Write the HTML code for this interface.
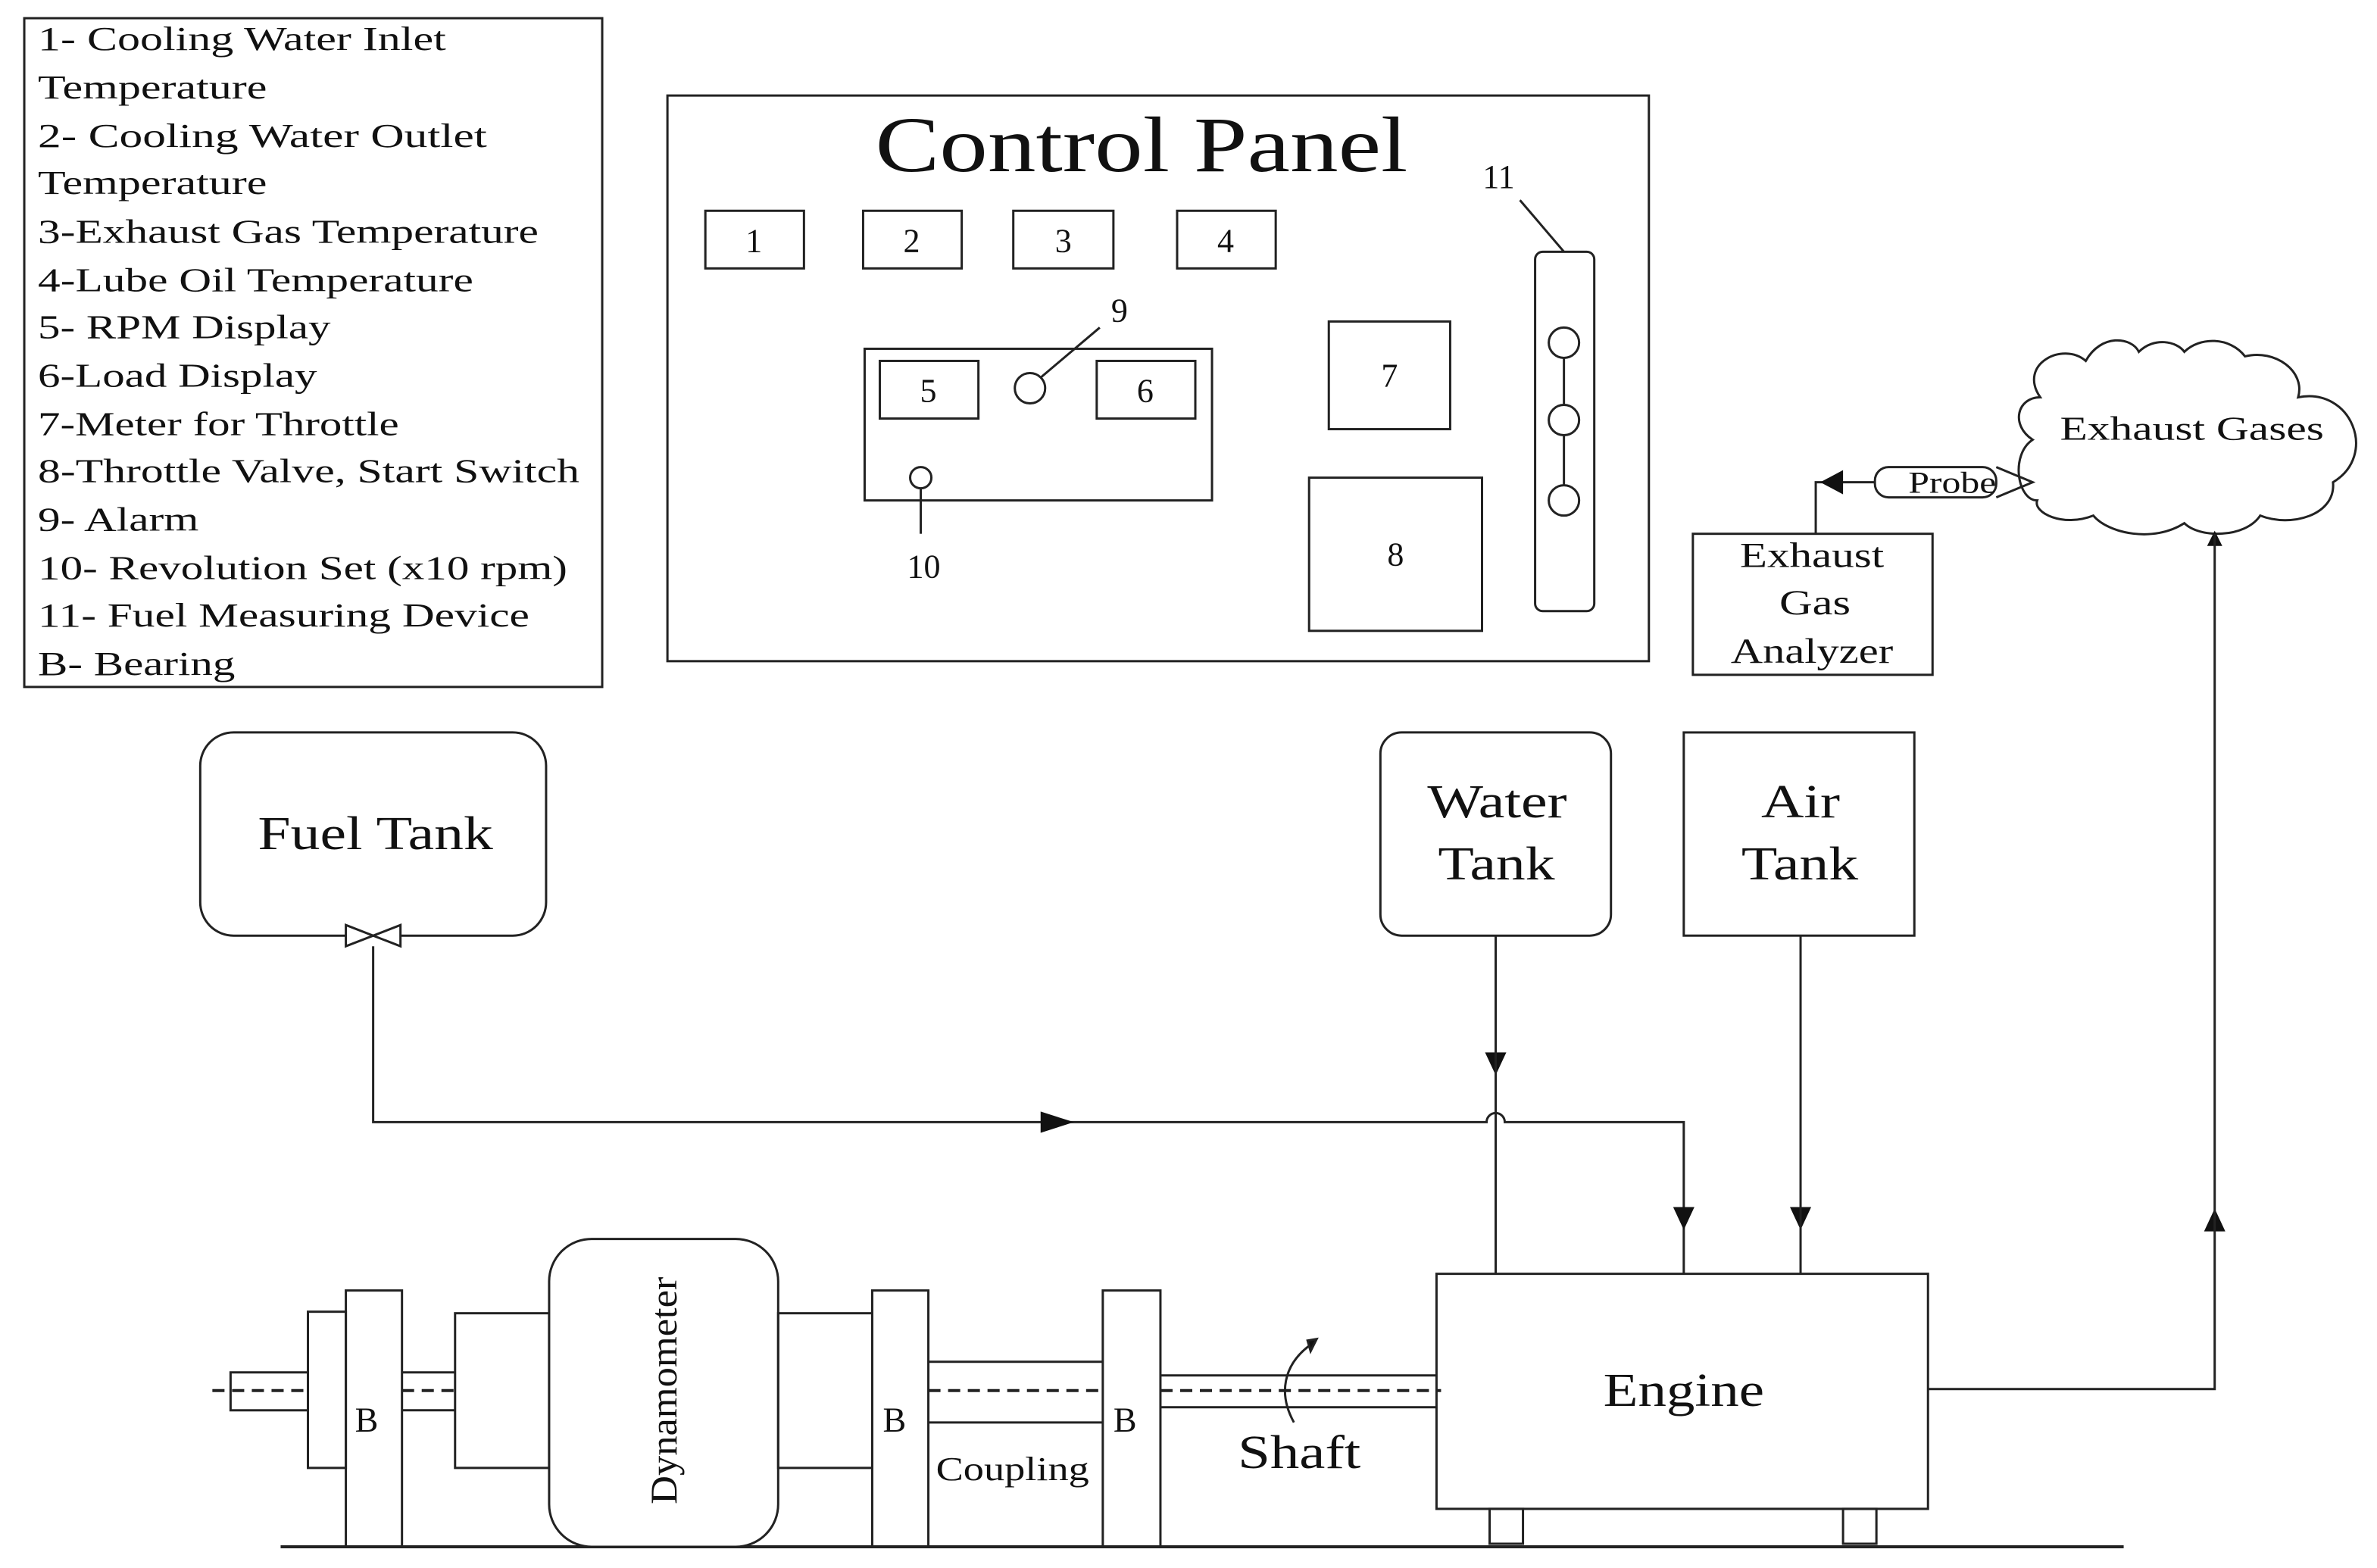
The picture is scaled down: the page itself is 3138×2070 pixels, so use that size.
<!DOCTYPE html>
<html><head><style>html,body{margin:0;padding:0;background:#fff}svg{display:block}</style></head><body>
<svg width="3138" height="2070" viewBox="0 0 1567 1034" preserveAspectRatio="none" xmlns="http://www.w3.org/2000/svg" font-family="Liberation Serif, serif" fill="none" stroke="#222" stroke-width="1.5">
<rect x="16" y="12" width="381" height="441"/>
<g fill="#111" stroke="none" font-size="22" lengthAdjust="spacingAndGlyphs">
<text x="25" y="33" textLength="269" lengthAdjust="spacingAndGlyphs">1- Cooling Water Inlet</text><text x="25" y="65" textLength="151" lengthAdjust="spacingAndGlyphs">Temperature</text>
<text x="25" y="97" textLength="296" lengthAdjust="spacingAndGlyphs">2- Cooling  Water Outlet</text><text x="25" y="128" textLength="151" lengthAdjust="spacingAndGlyphs">Temperature</text>
<text x="25" y="160" textLength="330" lengthAdjust="spacingAndGlyphs">3-Exhaust Gas Temperature</text><text x="25" y="192" textLength="287" lengthAdjust="spacingAndGlyphs">4-Lube Oil Temperature</text>
<text x="25" y="223" textLength="193" lengthAdjust="spacingAndGlyphs">5- RPM Display</text><text x="25" y="255" textLength="184" lengthAdjust="spacingAndGlyphs">6-Load Display</text>
<text x="25" y="287" textLength="238" lengthAdjust="spacingAndGlyphs">7-Meter for Throttle</text><text x="25" y="318" textLength="357" lengthAdjust="spacingAndGlyphs">8-Throttle Valve, Start Switch</text>
<text x="25" y="350" textLength="106" lengthAdjust="spacingAndGlyphs">9- Alarm</text><text x="25" y="382" textLength="349" lengthAdjust="spacingAndGlyphs">10- Revolution Set (x10 rpm)</text>
<text x="25" y="413" textLength="324" lengthAdjust="spacingAndGlyphs">11- Fuel Measuring Device</text><text x="25" y="445" textLength="130" lengthAdjust="spacingAndGlyphs">B- Bearing</text>
</g>
<rect x="440" y="63" width="647" height="373"/>
<g fill="#111" stroke="none" text-anchor="middle">
<text x="577" y="113" font-size="52" text-anchor="start" textLength="351" lengthAdjust="spacingAndGlyphs">Control Panel</text>
<g font-size="22"><text x="497" y="166">1</text><text x="601" y="166">2</text><text x="701" y="166">3</text><text x="808" y="166">4</text>
<text x="612" y="265">5</text><text x="755" y="265">6</text><text x="916" y="255">7</text><text x="920" y="373">8</text>
<text x="738" y="212">9</text><text x="609" y="381">10</text><text x="988" y="124">11</text></g>
</g>
<rect x="465" y="139" width="65" height="38"/><rect x="569" y="139" width="65" height="38"/><rect x="668" y="139" width="66" height="38"/><rect x="776" y="139" width="65" height="38"/>
<rect x="570" y="230" width="229" height="100"/>
<rect x="580" y="238" width="65" height="38"/><rect x="723" y="238" width="65" height="38"/>
<circle cx="679" cy="256" r="10"/><line x1="686" y1="249" x2="725" y2="216"/>
<circle cx="607" cy="315" r="7"/><line x1="607" y1="322" x2="607" y2="352"/>
<rect x="876" y="212" width="80" height="71"/><rect x="863" y="315" width="114" height="101"/>
<rect x="1012" y="166" width="39" height="237" rx="5"/>
<line x1="1031" y1="236" x2="1031" y2="267"/><line x1="1031" y1="287" x2="1031" y2="320"/>
<circle cx="1031" cy="226" r="10"/><circle cx="1031" cy="277" r="10"/><circle cx="1031" cy="330" r="10"/>
<line x1="1031" y1="166" x2="1002" y2="132"/>
<path d="M1345,262 C1330,240 1360,225 1375,238 C1385,220 1405,222 1410,232 C1420,222 1435,225 1440,232 C1450,222 1470,222 1480,235 C1500,230 1520,245 1515,262 C1550,255 1568,300 1538,318 C1540,340 1510,348 1490,340 C1480,355 1450,355 1440,345 C1420,358 1390,352 1380,340 C1360,348 1340,338 1343,330 C1330,330 1325,300 1340,290 C1325,280 1330,262 1345,262 z" fill="#fff"/>
<text x="1358" y="290" font-size="22" fill="#111" stroke="none" textLength="174" lengthAdjust="spacingAndGlyphs">Exhaust Gases</text>
<rect x="1236" y="308" width="80" height="20" rx="9" fill="#fff"/>
<path d="M1316,308 L1340,318 L1316,328"/>
<text x="1258" y="325" font-size="20" fill="#111" stroke="none" textLength="58" lengthAdjust="spacingAndGlyphs">Probe</text>
<path d="M1236,318 L1197,318 L1197,352" />
<path d="M1200,318 L1215,310 L1215,326 z" fill="#111" stroke="none"/>
<rect x="1116" y="352" width="158" height="93"/>
<g fill="#111" stroke="none" font-size="23"><text x="1147" y="374" textLength="95" lengthAdjust="spacingAndGlyphs">Exhaust</text><text x="1173" y="405" textLength="47" lengthAdjust="spacingAndGlyphs">Gas</text><text x="1141" y="437" textLength="107" lengthAdjust="spacingAndGlyphs">Analyzer</text></g>
<rect x="132" y="483" width="228" height="134" rx="22"/>
<text x="170" y="560" font-size="31" fill="#111" stroke="none" textLength="155" lengthAdjust="spacingAndGlyphs">Fuel Tank</text>
<path d="M228,610 L264,624 L264,610 L228,624 z" fill="#fff"/>
<rect x="910" y="483" width="152" height="134" rx="14"/>
<g fill="#111" stroke="none" font-size="31">
<text x="941" y="539" textLength="92" lengthAdjust="spacingAndGlyphs">Water</text><text x="948" y="580" textLength="77" lengthAdjust="spacingAndGlyphs">Tank</text>
<text x="1161" y="539" textLength="52" lengthAdjust="spacingAndGlyphs">Air</text><text x="1148" y="580" textLength="77" lengthAdjust="spacingAndGlyphs">Tank</text>
<text x="1057" y="927" textLength="106" lengthAdjust="spacingAndGlyphs">Engine</text>
<text x="816" y="968" textLength="81" lengthAdjust="spacingAndGlyphs">Shaft</text>
<text x="234" y="944" font-size="23">B</text><text x="582" y="944" font-size="23">B</text><text x="734" y="944" font-size="23">B</text>
<text x="617" y="976" font-size="22" textLength="101" lengthAdjust="spacingAndGlyphs">Coupling</text></g>
<rect x="1110" y="483" width="152" height="134"/>
<path d="M246,624 L246,740 L980,740 A6,6 0 0 1 992,740 L1110,740 L1110,840"/>
<path d="M686,733 L708,740 L686,747 z M1103,796 L1110,811 L1117,796 z M979,694 L986,709 L993,694 z M1180,796 L1187,811 L1194,796 z M1453,812 L1460,797 L1467,812 z M1455,360 L1460,350 L1465,360 z" fill="#111" stroke="none"/>
<path d="M986,617 L986,840 M1187,617 L1187,840 M1271,916 L1460,916 L1460,352"/>
<rect x="947" y="840" width="324" height="155"/>
<rect x="982" y="995" width="22" height="23"/><rect x="1215" y="995" width="22" height="23"/>
<line x1="185" y1="1020" x2="1400" y2="1020" stroke-width="2"/>
<rect x="152" y="905" width="51" height="25"/>
<rect x="203" y="865" width="25" height="103"/>
<rect x="228" y="851" width="37" height="169"/>
<path d="M265,905 L300,905 M265,930 L300,930"/>
<rect x="300" y="866" width="62" height="102"/>
<rect x="362" y="817" width="151" height="203" rx="28" fill="#fff"/>
<text transform="translate(446,992) rotate(-90)" font-size="25" fill="#111" stroke="none" textLength="150" lengthAdjust="spacingAndGlyphs">Dynamometer</text>
<rect x="513" y="866" width="62" height="102"/>
<rect x="575" y="851" width="37" height="169"/>
<path d="M612,898 L727,898 M612,938 L727,938"/>
<rect x="727" y="851" width="38" height="169"/>
<path d="M765,907 L947,907 M765,928 L947,928"/>
<path d="M140,917 L203,917 M265,917 L300,917 M612,917 L727,917 M765,917 L950,917" stroke-dasharray="8,5" stroke-width="2"/>
<path d="M853,938 C843,920 845,900 865,886"/>
<path d="M862,884 L868,883 L864,891 z" fill="#111"/>
</svg>
</body></html>
